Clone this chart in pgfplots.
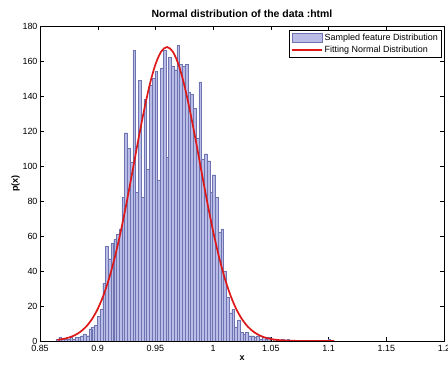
\documentclass[border=0pt]{standalone}
\usepackage{pgfplots}
\pgfplotsset{compat=1.18}
\usepackage{fontspec}
\setmainfont{Liberation Sans}
\definecolor{barfill}{RGB}{184,188,230}
\definecolor{baredge}{RGB}{110,116,175}
\definecolor{fitred}{RGB}{222,24,24}
\pgfplotsset{
  barlegend/.style={legend image code/.code={\draw[##1] (0bp,-4.5bp) rectangle (30bp,4.5bp);}},
  linelegend/.style={legend image code/.code={\draw[##1] (0bp,0bp) -- (30bp,0bp);}},
}
\begin{document}
\begin{tikzpicture}
\useasboundingbox (-40bp,-24bp) rectangle (408bp,341bp);
\begin{axis}[
  at={(0,0)}, anchor=south west,
  scale only axis, width=404bp, height=315bp,
  xmin=0.85, xmax=1.2, ymin=0, ymax=180,
  xtick={0.85,0.9,0.95,1,1.05,1.1,1.15,1.2},
  xticklabels={0.85,0.9,0.95,1,1.05,1.1,1.15,1.2},
  ytick={0,20,40,60,80,100,120,140,160,180},
  /pgf/number format/assume math mode=true,
  tick align=inside,
  major tick length=4bp,
  tick style={black, line width=0.4pt},
  axis line style={black, line width=0.5pt},
  ticklabel style={font=\fontsize{9}{10}\selectfont},
  xticklabel style={yshift=-1bp},
  yticklabel style={xshift=1bp},
  xlabel={\textbf{x}}, ylabel={\textbf{p(x)}},
  label style={font=\fontsize{9}{10}\selectfont},
  xlabel style={yshift=3bp},
  ylabel style={yshift=-4bp},
  title={\textbf{Normal distribution of the data :html}},
  title style={font=\fontsize{10.5}{12}\selectfont, yshift=-1bp},
  legend style={at={(0.994,0.987)}, anchor=north east, draw=black, fill=white,
    font=\fontsize{9}{10}\selectfont, row sep=0bp, inner sep=1.5bp},
  legend cell align=left,
]
\addplot[ybar, bar width=0.00238, fill=barfill, draw=baredge, line width=0.3pt, barlegend]
  table[row sep=\\] {
x y\\
0.8650 1\\
0.8674 2\\
0.8698 1\\
0.8721 1\\
0.8745 1\\
0.8769 2\\
0.8793 1\\
0.8817 2\\
0.8840 2\\
0.8864 3\\
0.8888 4\\
0.8912 3\\
0.8936 7\\
0.8959 8\\
0.8983 9\\
0.9007 14\\
0.9031 18\\
0.9055 33\\
0.9078 54\\
0.9102 47\\
0.9126 56\\
0.9150 58\\
0.9174 61\\
0.9197 64\\
0.9221 82\\
0.9245 119\\
0.9269 110\\
0.9293 102\\
0.9316 166\\
0.9340 85\\
0.9364 149\\
0.9388 82\\
0.9412 138\\
0.9435 98\\
0.9459 146\\
0.9483 150\\
0.9507 154\\
0.9531 92\\
0.9554 156\\
0.9578 166\\
0.9602 105\\
0.9626 162\\
0.9650 157\\
0.9673 155\\
0.9697 169\\
0.9721 158\\
0.9745 157\\
0.9769 158\\
0.9792 142\\
0.9816 141\\
0.9840 133\\
0.9864 116\\
0.9888 148\\
0.9911 104\\
0.9935 107\\
0.9959 103\\
0.9983 85\\
1.0007 95\\
1.0030 82\\
1.0054 62\\
1.0078 64\\
1.0102 40\\
1.0126 25\\
1.0149 16\\
1.0173 18\\
1.0197 8\\
1.0221 12\\
1.0245 5\\
1.0268 4\\
1.0292 5\\
1.0316 3\\
1.0340 3\\
1.0364 2\\
1.0387 3\\
1.0411 1\\
1.0435 2\\
1.0459 1\\
1.0483 2\\
1.0530 1\\
1.0602 1\\
1.0649 1\\
1.1006 1\\
};
\addlegendentry{Sampled feature Distribution}
\addplot[fitred, line width=1.7bp, smooth, linelegend]
  coordinates {
(0.865,0.65) (0.870,1.15) (0.875,1.97) (0.880,3.27) (0.885,5.27) (0.890,8.23)
(0.895,12.46) (0.900,18.3) (0.905,26.1) (0.910,36.1) (0.915,48.3) (0.920,62.7)
(0.925,79.0) (0.930,96.5) (0.935,114.4) (0.940,131.3) (0.945,146.3) (0.950,158.0)
(0.955,165.4) (0.960,168.0) (0.965,165.4) (0.970,158.0) (0.975,146.3) (0.980,131.3)
(0.985,114.4) (0.990,96.5) (0.995,79.0) (1.000,62.7) (1.005,48.3) (1.010,36.1)
(1.015,26.1) (1.020,18.3) (1.025,12.46) (1.030,8.23) (1.035,5.27) (1.040,3.27)
(1.045,1.97) (1.050,1.15) (1.055,0.65) (1.060,0.36) (1.065,0.19) (1.070,0.1)
(1.080,0.02) (1.090,0.0) (1.105,0.0)
};
\addlegendentry{Fitting Normal Distribution}
\end{axis}
\end{tikzpicture}
\end{document}
